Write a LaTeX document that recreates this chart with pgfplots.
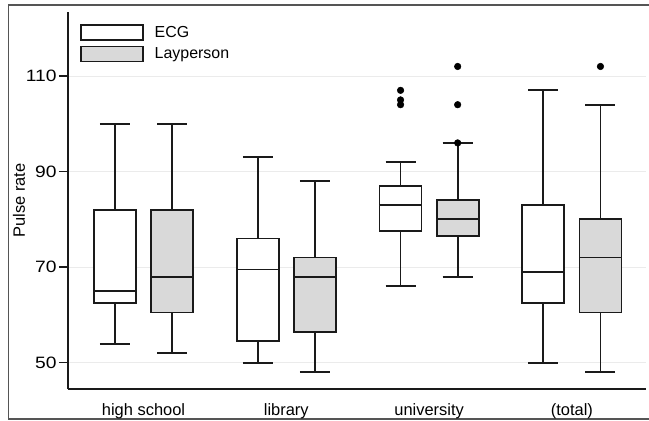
\documentclass[border=0pt]{standalone}
\usepackage{fontspec}
\setmainfont{Liberation Sans}
\usepackage{graphicx}
\usepackage{pgfplots}
\pgfplotsset{compat=1.18}
\usepgfplotslibrary{statistics}
\definecolor{boxgray}{HTML}{D9D9D9}
\definecolor{gridgray}{HTML}{EBEBEB}
\definecolor{framegray}{HTML}{555555}
\definecolor{ink}{HTML}{1A1A1A}
\pgfplotsset{
  bx/.style={forget plot, solid, draw=ink, line width=1.8bp, mark=*, mark size=3.3bp,
    mark options={fill=black, draw=black, solid, line width=0.5bp}},
}
\begin{document}
\begin{tikzpicture}
\useasboundingbox (0,0) rectangle (649bp,421bp);
\fill[white] (0,0) rectangle (649bp,421bp);
\draw[line width=2bp, framegray] (8bp,416bp) -- (652bp,416bp);
\draw[line width=2bp, framegray] (8bp,2bp) -- (652bp,2bp);
\draw[line width=1bp, framegray] (8bp,2bp) -- (8bp,416bp);
\begin{axis}[
  at={(68bp,32bp)}, anchor=south west,
  scale only axis, width=578bp, height=377bp,
  xmin=0.471, xmax=4.519, ymin=44.5, ymax=123.4,
  axis lines*=left,
  axis line style={line width=1.8bp, ink},
  xtick={1,2,3,4},
  xticklabels={high school, library, university, (total)},
  xtick style={draw=none},
  ytick={50,70,90,110},
  yticklabel={\scalebox{1.17}[1]{\pgfmathprintnumber{\tick}}},
  ytick style={line width=1.5bp, ink},
  tick align=outside,
  major tick length=9bp,
  ymajorgrids,
  grid style={gridgray, line width=0.8bp},
  /pgf/number format/assume math mode=true,
  yticklabel style={font=\fontsize{16.5}{19}\selectfont, xshift=1bp},
  xticklabel style={font=\fontsize{16.5}{19}\selectfont, yshift=-2bp},
  ylabel={Pulse rate},
  ylabel style={at={(rel axis cs:0,0.5)}, anchor=center, yshift=49bp, font=\fontsize{16.5}{19}\selectfont},
  legend style={at={(rel axis cs:0,1)}, anchor=north west, xshift=12bp, yshift=-12bp,
    draw=none, fill=none, inner sep=0pt, row sep=5bp,
    nodes={inner sep=0pt}, font=\fontsize{16}{19}\selectfont,
    /tikz/every odd column/.append style={column sep=11bp}},
  legend cell align=left,
  boxplot/draw direction=y,
  boxplot/box extend=0.294,
  boxplot/whisker extend=0.21,
]
\addlegendimage{legend image code/.code={\draw[line width=1.5bp, ink, fill=white] (0bp,-7.5bp) rectangle (62bp,7.5bp);}}
\addlegendentry{ECG}
\addlegendimage{legend image code/.code={\draw[line width=1.5bp, ink, fill=boxgray] (0bp,-7.5bp) rectangle (62bp,7.5bp);}}
\addlegendentry{Layperson}

% high school
\addplot+[bx, fill=white,
  boxplot prepared={draw position=0.8, lower whisker=54, lower quartile=62.5, median=65, upper quartile=82, upper whisker=100}] coordinates {};
\addplot+[bx, fill=boxgray,
  boxplot prepared={draw position=1.2, lower whisker=52, lower quartile=60.5, median=68, upper quartile=82, upper whisker=100}] coordinates {};
% library
\addplot+[bx, fill=white,
  boxplot prepared={draw position=1.8, lower whisker=50, lower quartile=54.5, median=69.5, upper quartile=76, upper whisker=93}] coordinates {};
\addplot+[bx, fill=boxgray,
  boxplot prepared={draw position=2.2, lower whisker=48, lower quartile=56.5, median=68, upper quartile=72, upper whisker=88}] coordinates {};
% university
\addplot+[bx, fill=white,
  boxplot prepared={draw position=2.8, lower whisker=66, lower quartile=77.5, median=83, upper quartile=87, upper whisker=92}]
  coordinates {(0,104) (0,105) (0,107)};
\addplot+[bx, fill=boxgray,
  boxplot prepared={draw position=3.2, lower whisker=68, lower quartile=76.5, median=80, upper quartile=84, upper whisker=96}]
  coordinates {(0,96) (0,104) (0,112)};
% total
\addplot+[bx, fill=white,
  boxplot prepared={draw position=3.8, lower whisker=50, lower quartile=62.5, median=69, upper quartile=83, upper whisker=107}] coordinates {};
\addplot+[bx, fill=boxgray,
  boxplot prepared={draw position=4.2, lower whisker=48, lower quartile=60.5, median=72, upper quartile=80, upper whisker=104}]
  coordinates {(0,112)};
\end{axis}
\end{tikzpicture}
\end{document}
